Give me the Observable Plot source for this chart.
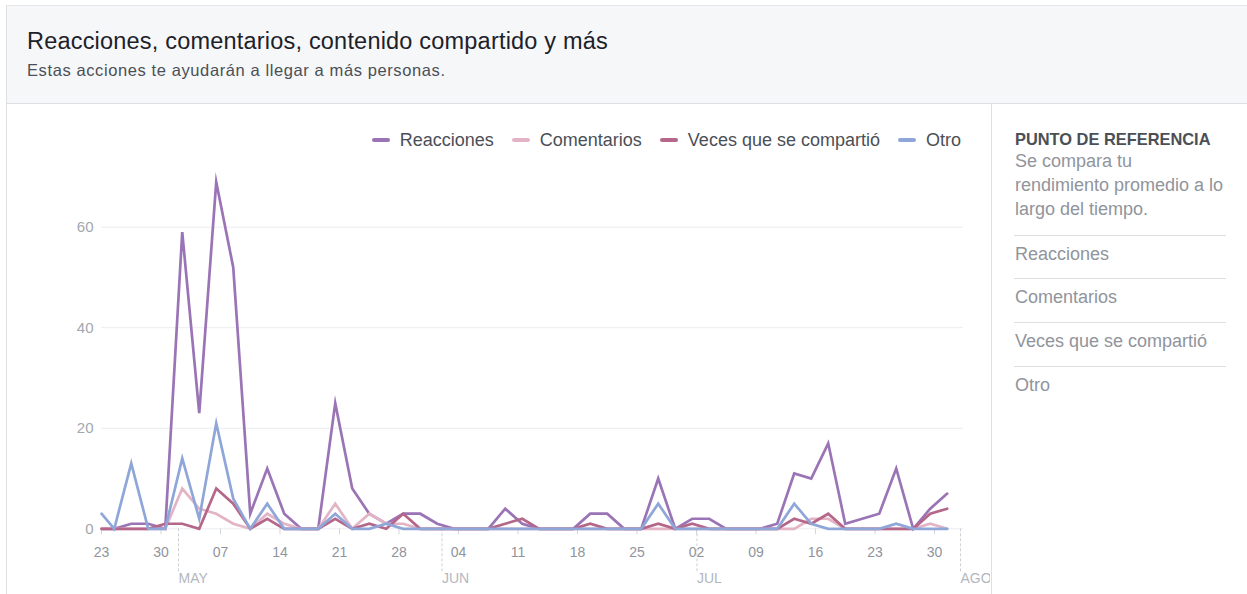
<!DOCTYPE html>
<html>
<head>
<meta charset="utf-8">
<script src="https://cdn.jsdelivr.net/npm/d3@7"></script>
<script src="https://cdn.jsdelivr.net/npm/@observablehq/plot@0.6"></script>
<style>
  html, body { margin: 0; padding: 0; }
  body { width: 1247px; height: 594px; position: relative; overflow: hidden; background: #fff;
         font-family: "Liberation Sans", Arial, sans-serif; }
  .abs { position: absolute; white-space: nowrap; }
  #header { position: absolute; left: 6px; top: 5px; width: 1241px; height: 97px; background: #f6f7f9;
            border-top: 1px solid #e5e6e9; border-left: 1px solid #dddfe2; border-bottom: 1px solid #dddfe2; }
  #leftborder { position: absolute; left: 6px; top: 104px; width: 1px; height: 490px; background: #dddfe2; }
  #chart { position: absolute; left: 0; top: 104px; }
  #panel { position: absolute; left: 991px; top: 104px; width: 256px; height: 490px; background: #fff;
           border-left: 1px solid #dddfe2; z-index: 2; }
  #legend { position: absolute; top: 130.5px; right: 286px; display: flex; align-items: center;
            font-size: 18px; line-height: 18px; color: #4b4f56; }
  #legend .item { display: flex; align-items: center; margin-left: 18px; }
  #legend .sw { width: 18px; height: 4px; border-radius: 2px; margin-right: 10px; margin-top: 1px; }
</style>
</head>
<body>
<div id="header"></div>
<div class="abs" style="left:27px; top:29.6px; font-size:23.5px; line-height:23.5px; letter-spacing:0.2px; color:#1d2129;">Reacciones, comentarios, contenido compartido y más</div>
<div class="abs" style="left:27px; top:62px; font-size:16.5px; line-height:16.5px; letter-spacing:0.6px; color:#4b4f56;">Estas acciones te ayudarán a llegar a más personas.</div>
<div id="leftborder"></div>
<div id="chart"></div>
<div id="legend"></div>
<div id="panel"></div>
<script>
// ---------- data ----------
const seriesNames = ["Reacciones", "Comentarios", "Veces que se compartió", "Otro"];
const seriesColors = ["#9b74b6", "#e3b4c6", "#b5678a", "#8fa6d8"];

const dates = [
  "2018-04-23T00:00Z",
  "2018-04-24T12:00Z", "2018-04-26T12:00Z", "2018-04-28T12:00Z", "2018-04-30T12:00Z",
  "2018-05-02T12:00Z", "2018-05-04T12:00Z", "2018-05-06T12:00Z", "2018-05-08T12:00Z",
  "2018-05-10T12:00Z", "2018-05-12T12:00Z", "2018-05-14T12:00Z", "2018-05-16T12:00Z",
  "2018-05-18T12:00Z", "2018-05-20T12:00Z", "2018-05-22T12:00Z", "2018-05-24T12:00Z",
  "2018-05-26T12:00Z", "2018-05-28T12:00Z", "2018-05-30T12:00Z", "2018-06-01T12:00Z",
  "2018-06-03T12:00Z", "2018-06-05T12:00Z", "2018-06-07T12:00Z", "2018-06-09T12:00Z",
  "2018-06-11T12:00Z", "2018-06-13T12:00Z", "2018-06-15T12:00Z", "2018-06-17T12:00Z",
  "2018-06-19T12:00Z", "2018-06-21T12:00Z", "2018-06-23T12:00Z", "2018-06-25T12:00Z",
  "2018-06-27T12:00Z", "2018-06-29T12:00Z", "2018-07-01T12:00Z", "2018-07-03T12:00Z",
  "2018-07-05T12:00Z", "2018-07-07T12:00Z", "2018-07-09T12:00Z", "2018-07-11T12:00Z",
  "2018-07-13T12:00Z", "2018-07-15T12:00Z", "2018-07-17T12:00Z", "2018-07-19T12:00Z",
  "2018-07-21T12:00Z", "2018-07-23T12:00Z", "2018-07-25T12:00Z", "2018-07-27T12:00Z",
  "2018-07-29T12:00Z", "2018-07-31T12:00Z"
];

const reacciones = [0, 0, 1, 1, 0, 59, 23, 69, 52, 3, 12, 3, 0, 0, 25, 8, 3, 1, 3, 3, 1, 0, 0, 0, 4, 1,
  0, 0, 0, 3, 3, 0, 0, 10, 0, 2, 2, 0, 0, 0, 1, 11, 10, 17, 1, 2, 3, 12, 0, 4, 7];
const comentarios = [0, 0, 0, 0, 0, 8, 4, 3, 1, 0, 3, 1, 0, 0, 5, 0, 3, 1, 1, 0, 0, 0, 0, 0, 0, 0,
  0, 0, 0, 0, 0, 0, 0, 0, 0, 0, 0, 0, 0, 0, 0, 0, 2, 2, 0, 0, 0, 0, 0, 1, 0];
const compartido = [0, 0, 0, 0, 1, 1, 0, 8, 5, 0, 2, 0, 0, 0, 2, 0, 1, 0, 3, 0, 0, 0, 0, 0, 1, 2,
  0, 0, 0, 1, 0, 0, 0, 1, 0, 1, 0, 0, 0, 0, 0, 2, 1, 3, 0, 0, 0, 0, 0, 3, 4];
const otro = [3, 0, 13, 0, 0, 14, 2, 21, 6, 0, 5, 0, 0, 0, 3, 0, 0, 1, 0, 0, 0, 0, 0, 0, 0, 0,
  0, 0, 0, 0, 0, 0, 0, 5, 0, 0, 0, 0, 0, 0, 0, 5, 1, 0, 0, 0, 0, 1, 0, 0, 0];

const yTicks = [0, 20, 40, 60];
const xTickDates = ["2018-04-23", "2018-04-30", "2018-05-07", "2018-05-14", "2018-05-21", "2018-05-28",
  "2018-06-04", "2018-06-11", "2018-06-18", "2018-06-25", "2018-07-02", "2018-07-09", "2018-07-16",
  "2018-07-23", "2018-07-30"];
const xTickLabels = ["23", "30", "07", "14", "21", "28", "04", "11", "18", "25", "02", "09", "16", "23", "30"];
const monthDates = ["2018-05-01", "2018-06-01", "2018-07-01", "2018-08-01"];
const monthLabels = ["MAY", "JUN", "JUL", "AGO"];

const benchmarkTitle = "PUNTO DE REFERENCIA";
const benchmarkText = ["Se compara tu", "rendimiento promedio a lo", "largo del tiempo."];
const benchmarkItems = ["Reacciones", "Comentarios", "Veces que se compartió", "Otro"];

// ---------- build ----------
const allValues = [reacciones, comentarios, compartido, otro];
const rows = [];
seriesNames.forEach((name, s) => {
  dates.forEach((d, i) => rows.push({series: name, date: new Date(d), value: allValues[s][i]}));
});
const xt = xTickDates.map(d => new Date(d + "T00:00Z"));
const mt = monthDates.map(d => new Date(d + "T00:00Z"));
const gray = "#90949c";

const chart = Plot.plot({
  width: 990,
  height: 490,
  marginLeft: 101,
  marginRight: 27,
  marginTop: 72.4,
  marginBottom: 65.7,
  style: {background: "transparent", fontFamily: "'Liberation Sans', Arial, sans-serif"},
  x: {type: "utc", domain: [new Date("2018-04-23T00:00Z"), new Date("2018-08-02T10:00Z")]},
  y: {domain: [0, 70]},
  color: {domain: seriesNames, range: seriesColors},
  marks: [
    Plot.gridY(yTicks, {stroke: "#ebedf0", strokeOpacity: 1, strokeWidth: 1}),
    Plot.axisY({ticks: yTicks, tickSize: 0, tickPadding: 8, fontSize: 15, fill: "#a3a7ae", label: null}),
    Plot.axisX({ticks: xt, tickSize: 6, tickPadding: 12, fontSize: 14, stroke: "#d3d6db", fill: gray,
      tickFormat: (d, i) => xTickLabels[i], label: null}),
    Plot.axisX({ticks: mt, tickSize: 43, tickPadding: 1, fontSize: 14, stroke: "#ccd0d5", fill: "#b3b7be",
      strokeDasharray: "3,2", textAnchor: "start", dx: 9,
      tickFormat: (d, i) => monthLabels[i], label: null}),
    Plot.lineY(rows, {x: "date", y: "value", z: "series", stroke: "series", strokeWidth: 2.7,
      strokeLinejoin: "miter", strokeMiterlimit: 10, curve: "linear"})
  ]
});
document.getElementById("chart").appendChild(chart);

// legend
const legend = document.getElementById("legend");
seriesNames.forEach((name, i) => {
  const it = document.createElement("div");
  it.className = "item";
  if (i === 0) it.style.marginLeft = "0";
  const sw = document.createElement("div");
  sw.className = "sw";
  sw.style.background = seriesColors[i];
  const tx = document.createElement("span");
  tx.textContent = name;
  it.appendChild(sw); it.appendChild(tx);
  legend.appendChild(it);
});

// right panel
const panel = document.getElementById("panel");
const addText = (txt, left, top, size, color, weight) => {
  const d = document.createElement("div");
  d.className = "abs";
  d.textContent = txt;
  Object.assign(d.style, {left: left + "px", top: top + "px", fontSize: size + "px", lineHeight: size + "px",
    color, fontWeight: weight || "normal"});
  panel.appendChild(d);
};
addText(benchmarkTitle, 23, 131.3 - 104, 16.4, "#4b4f56", "bold");
benchmarkText.forEach((t, i) => addText(t, 23, 149 + 24 * i - 104 + 3, 18, gray));
const divTops = [235, 278.3, 321.7, 365.7];
benchmarkItems.forEach((t, i) => {
  const line = document.createElement("div");
  Object.assign(line.style, {position: "absolute", left: "22px", top: (divTops[i] - 104) + "px",
    width: "212px", height: "1px", background: "#dddfe2"});
  panel.appendChild(line);
  addText(t, 23, divTops[i] - 104 + 9.8, 18, gray);
});
</script>
</body>
</html>
